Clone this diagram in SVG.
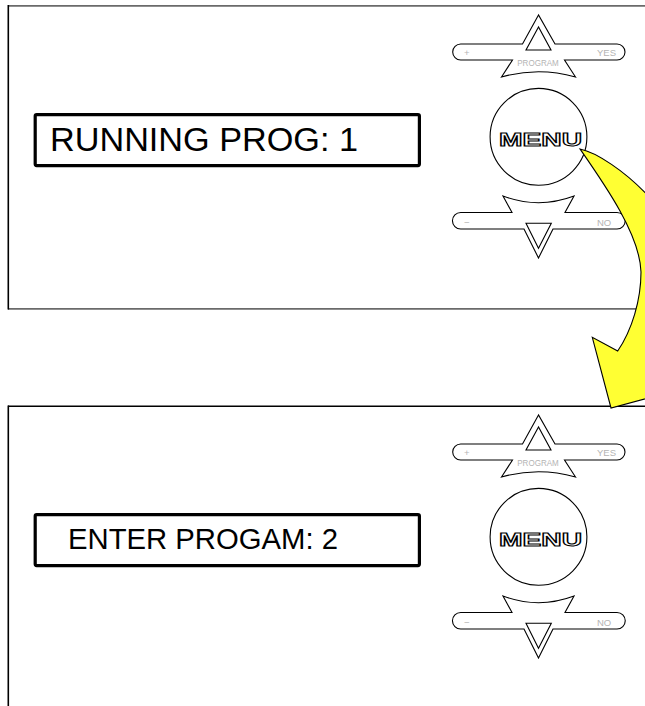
<svg xmlns="http://www.w3.org/2000/svg" width="645" height="706" viewBox="0 0 645 706">
  <style>
    .frame-gray { stroke: #6a6a6a; stroke-width: 1.8; fill: none; }
    .frame-black { stroke: #000; stroke-width: 1.6; fill: none; }
    .lcd { fill: #fff; stroke: #000; stroke-width: 3.2; }
    .lcd-text { font-family: "Liberation Sans", Arial, sans-serif; fill: #000; }
    .btn { fill: #fff; stroke: #000; stroke-width: 1.1; stroke-linejoin: miter; }
    .btn-label { font-family: "Liberation Sans", Arial, sans-serif; font-size: 9.5px; fill: #b4b4b4; }
    .menu-label { font-family: "Liberation Sans", Arial, sans-serif; font-weight: bold; font-size: 17.5px; fill: #fff; stroke: #000; stroke-width: 1; }
    .flow-arrow { fill: #ffff33; stroke: #000; stroke-width: 1.1; stroke-linejoin: miter; }
  </style>

  <!-- Panel 1 -->
  <g id="panel-1">
    <line class="frame-gray" x1="8" y1="5.8" x2="645" y2="5.8"/>
    <line class="frame-gray" x1="8" y1="308.8" x2="645" y2="308.8"/>
    <line class="frame-black" x1="8.3" y1="5" x2="8.3" y2="309.5"/>
  </g>
  <g id="display-1">
    <rect class="lcd" x="35.2" y="114.6" width="384.2" height="51" rx="1.5"/>
    <text class="lcd-text" x="50" y="151" font-size="34" textLength="308" lengthAdjust="spacingAndGlyphs">RUNNING PROG: 1</text>
  </g>
  <g id="up-button-1">
    <path class="btn" d="M538.5,15 L522.5,44 L460.7,44 A8,8 0 0 0 460.7,60 L512.5,60 L501.5,77 Q538.5,66.4 575.5,77 L564.5,60 L617,60 A8,8 0 0 0 617,44 L555,44 Z"/>
    <path class="btn" d="M538.5,27 L526,50 L551,50 Z"/>
    <text class="btn-label" x="466.7" y="55.5" text-anchor="middle">+</text>
    <text class="btn-label" x="597" y="55.5">YES</text>
    <text class="btn-label" x="538" y="65.5" font-size="8.5" text-anchor="middle" textLength="41.5" lengthAdjust="spacingAndGlyphs">PROGRAM</text>
  </g>
  <g id="menu-button-1">
    <circle class="btn" cx="538.5" cy="136.8" r="48.4"/>
    <text class="menu-label" x="499" y="146" textLength="83" lengthAdjust="spacingAndGlyphs">MENU</text>
  </g>
  <g id="down-button-1">
    <path class="btn" d="M503,196 Q538.5,209.4 574,196 L565,212.5 L617,212.5 A8.25,8.25 0 0 1 617,229 L553,229 L538.5,258 L524,229 L460.7,229 A8.25,8.25 0 0 1 460.7,212.5 L512,212.5 Z"/>
    <path class="btn" d="M526,223.3 L551.3,223.3 L538.5,248.3 Z"/>
    <text class="btn-label" x="466.7" y="225.5" text-anchor="middle">−</text>
    <text class="btn-label" x="597" y="226">NO</text>
  </g>

  <!-- Panel 2 -->
  <g id="panel-2">
    <line class="frame-black" x1="8" y1="406.3" x2="645" y2="406.3"/>
    <line class="frame-black" x1="8.3" y1="405.5" x2="8.3" y2="706"/>
  </g>
  <g id="display-2">
    <rect class="lcd" x="35.2" y="514.6" width="384.2" height="51" rx="1.5"/>
    <text class="lcd-text" x="68" y="549" font-size="29" textLength="270" lengthAdjust="spacingAndGlyphs">ENTER PROGAM: 2</text>
  </g>
  <g id="up-button-2" transform="translate(0,400)">
    <path class="btn" d="M538.5,15 L522.5,44 L460.7,44 A8,8 0 0 0 460.7,60 L512.5,60 L501.5,77 Q538.5,66.4 575.5,77 L564.5,60 L617,60 A8,8 0 0 0 617,44 L555,44 Z"/>
    <path class="btn" d="M538.5,27 L526,50 L551,50 Z"/>
    <text class="btn-label" x="466.7" y="55.5" text-anchor="middle">+</text>
    <text class="btn-label" x="597" y="55.5">YES</text>
    <text class="btn-label" x="538" y="65.5" font-size="8.5" text-anchor="middle" textLength="41.5" lengthAdjust="spacingAndGlyphs">PROGRAM</text>
  </g>
  <g id="menu-button-2" transform="translate(0,400)">
    <circle class="btn" cx="538.5" cy="136.8" r="48.4"/>
    <text class="menu-label" x="499" y="146" textLength="83" lengthAdjust="spacingAndGlyphs">MENU</text>
  </g>
  <g id="down-button-2" transform="translate(0,400)">
    <path class="btn" d="M503,196 Q538.5,209.4 574,196 L565,212.5 L617,212.5 A8.25,8.25 0 0 1 617,229 L553,229 L538.5,258 L524,229 L460.7,229 A8.25,8.25 0 0 1 460.7,212.5 L512,212.5 Z"/>
    <path class="btn" d="M526,223.3 L551.3,223.3 L538.5,248.3 Z"/>
    <text class="btn-label" x="466.7" y="225.5" text-anchor="middle">−</text>
    <text class="btn-label" x="597" y="226">NO</text>
  </g>

  <!-- Connectors -->
  <g id="connectors">
    <path class="flow-arrow" d="M580,149 C595,152 625,170 652,200 L700,200 L700,384 L611,408 L592.3,337.3 L617.7,351 C632,330 641,300 641,272 C640,235 605,185 580,149 Z"/>
  </g>
</svg>
